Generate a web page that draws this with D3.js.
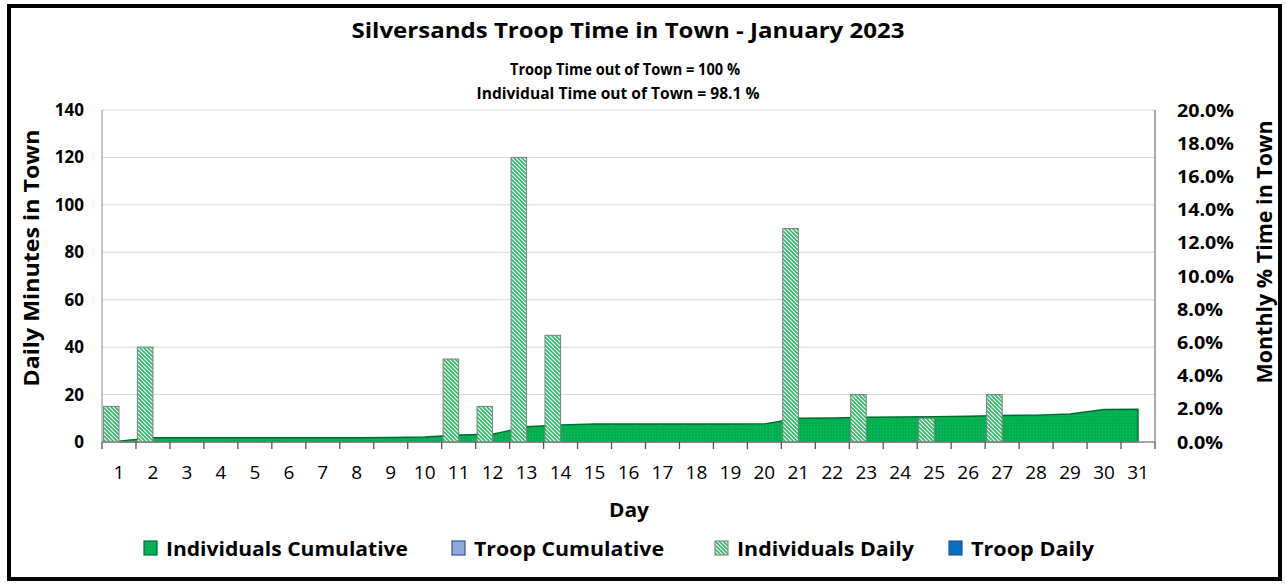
<!DOCTYPE html>
<html>
<head>
<meta charset="utf-8">
<script src="https://cdn.jsdelivr.net/npm/d3@7"></script>
<style>
  body { margin: 0; background: #fff; }
  svg { display: block; font-family: "Open Sans", "Noto Sans", sans-serif; }
</style>
</head>
<body>
<div id="chart"></div>
<script>
// data
var days = ["1","2","3","4","5","6","7","8","9","10","11","12","13","14","15","16",
  "17","18","19","20","21","22","23","24","25","26","27","28","29","30","31"];
var indivDaily = [15,40,0,0,0,0,0,0,0,0,35,15,120,45,0,0,0,0,0,0,90,0,20,0,10,0,20,0,0,0,0];
var troopDaily = [0,0,0,0,0,0,0,0,0,0,0,0,0,0,0,0,0,0,0,0,0,0,0,0,0,0,0,0,0,0,0];
// cumulative % of month, secondary axis
var indivCum = [0.05,0.26,0.26,0.26,0.26,0.26,0.26,0.26,0.27,0.30,0.42,0.47,0.92,1.03,1.08,1.08,
  1.08,1.08,1.08,1.09,1.43,1.45,1.49,1.51,1.53,1.55,1.60,1.62,1.69,1.96,1.97];
var troopCum = [0,0,0,0,0,0,0,0,0,0,0,0,0,0,0,0,0,0,0,0,0,0,0,0,0,0,0,0,0,0,0];
var leftTicks = [0,20,40,60,80,100,120,140];
var rightTicks = [0,2,4,6,8,10,12,14,16,18,20];
var legendNames = ["Individuals Cumulative","Troop Cumulative","Individuals Daily","Troop Daily"];

var W = 1286, H = 585;
var plot = {left: 102, right: 1155, top: 110, bottom: 442};

var svg = d3.select("#chart").append("svg")
    .attr("width", W)
    .attr("height", H);

var defs = svg.append("defs");

// diagonal hatch for daily bars
var hatch = defs.append("pattern")
    .attr("id", "hatch")
    .attr("patternUnits", "userSpaceOnUse")
    .attr("width", 4).attr("height", 4);
hatch.append("rect").attr("width", 4).attr("height", 4).attr("fill", "#fff");
hatch.append("path")
    .attr("d", "M-1,-1 L5,5 M-1,3 L1,5 M3,-1 L5,1")
    .attr("stroke", "#2fbf68").attr("stroke-width", 1.7);

// speckled fill for cumulative area
var dots = defs.append("pattern")
    .attr("id", "dots")
    .attr("patternUnits", "userSpaceOnUse")
    .attr("width", 3).attr("height", 3);
dots.append("rect").attr("width", 3).attr("height", 3).attr("fill", "#00b050");
dots.append("rect").attr("x", 1).attr("y", 1).attr("width", 1).attr("height", 1).attr("fill", "#1cbd60");

// outer frame
svg.append("rect")
    .attr("x", 9).attr("y", 6)
    .attr("width", 1271).attr("height", 573)
    .attr("fill", "none").attr("stroke", "#000").attr("stroke-width", 4);

// scales
var x = d3.scaleBand().domain(days).range([plot.left, plot.right]).padding(0);
var xInner = d3.scaleBand().domain(["indiv", "troop"])
    .range([0, x.bandwidth()]).paddingInner(0).paddingOuter(0.09);
var y = d3.scaleLinear().domain([0, 140]).range([plot.bottom, plot.top]);
var yR = d3.scaleLinear().domain([0, 20]).range([plot.bottom, plot.top]);

// gridlines
svg.append("g")
  .selectAll("line")
  .data(leftTicks.slice(1))
  .enter().append("line")
    .attr("x1", plot.left).attr("x2", plot.right)
    .attr("y1", function(d) { return y(d); })
    .attr("y2", function(d) { return y(d); })
    .attr("stroke", "#d9d9d9").attr("stroke-width", 1);

// cumulative areas (secondary axis)
var area = d3.area()
    .x(function(d, i) { return x(days[i]) + x.bandwidth() / 2; })
    .y0(plot.bottom)
    .y1(function(d) { return yR(d); });

svg.append("path")
    .datum(troopCum)
    .attr("d", area)
    .attr("fill", "#8eaadb").attr("stroke", "none");

svg.append("path")
    .datum(indivCum)
    .attr("d", area)
    .attr("fill", "url(#dots)")
    .attr("stroke", "#006b33").attr("stroke-width", 1.4)
    .attr("stroke-linejoin", "round");

// daily bars
var indivRows = indivDaily.map(function(v, i) { return {day: days[i], v: v}; })
    .filter(function(d) { return d.v > 0; });
var troopRows = troopDaily.map(function(v, i) { return {day: days[i], v: v}; });

var bars = svg.append("g");
bars.selectAll("rect.indiv")
  .data(indivRows)
  .enter().append("rect")
    .attr("class", "indiv")
    .attr("x", function(d) { return x(d.day) + xInner("indiv"); })
    .attr("y", function(d) { return y(d.v); })
    .attr("width", xInner.bandwidth())
    .attr("height", function(d) { return plot.bottom - y(d.v); })
    .attr("fill", "url(#hatch)")
    .attr("stroke", "#7f7f7f").attr("stroke-width", 1);

bars.selectAll("rect.troop")
  .data(troopRows)
  .enter().append("rect")
    .attr("class", "troop")
    .attr("x", function(d) { return x(d.day) + xInner("troop"); })
    .attr("y", function(d) { return y(d.v); })
    .attr("width", xInner.bandwidth())
    .attr("height", function(d) { return plot.bottom - y(d.v); })
    .attr("fill", "#0070c0");

// axes lines
var axisColor = "#8a8a8a";
svg.append("line")
    .attr("x1", plot.left).attr("x2", plot.left)
    .attr("y1", plot.top).attr("y2", plot.bottom)
    .attr("stroke", axisColor);
svg.append("line")
    .attr("x1", plot.right).attr("x2", plot.right)
    .attr("y1", plot.top).attr("y2", plot.bottom)
    .attr("stroke", "#555");

// bottom axis with ticks between categories
var xAxis = svg.append("g").attr("transform", "translate(0," + plot.bottom + ")");
xAxis.append("line")
    .attr("x1", plot.left).attr("x2", plot.right)
    .attr("stroke", axisColor).attr("stroke-width", 1.3);
xAxis.selectAll("line.tick")
  .data(days.concat(["end"]))
  .enter().append("line")
    .attr("class", "tick")
    .attr("x1", function(d, i) { return plot.left + i * x.bandwidth(); })
    .attr("x2", function(d, i) { return plot.left + i * x.bandwidth(); })
    .attr("y1", 0).attr("y2", 7)
    .attr("stroke", "#555").attr("stroke-width", 1.3);
xAxis.selectAll("text")
  .data(days)
  .enter().append("text")
    .attr("x", function(d) { return x(d) + x.bandwidth() / 2; })
    .attr("y", 37)
    .attr("text-anchor", "middle")
    .attr("font-size", 19)
    .attr("fill", "#000")
    .text(function(d) { return d; });

// left tick labels
svg.append("g").selectAll("text")
  .data(leftTicks)
  .enter().append("text")
    .attr("x", 84)
    .attr("y", function(d) { return y(d) + 6; })
    .attr("text-anchor", "end")
    .attr("font-size", 17).attr("font-weight", "bold")
    .text(function(d) { return d; });

// right tick labels
svg.append("g").selectAll("text")
  .data(rightTicks)
  .enter().append("text")
    .attr("x", 1177)
    .attr("y", function(d) { return yR(d) + 6.5; })
    .attr("font-size", 18).attr("font-weight", "bold")
    .attr("textLength", function(d) { return d >= 10 ? 57 : 46; })
    .attr("lengthAdjust", "spacingAndGlyphs")
    .text(function(d) { return d.toFixed(1) + "%"; });

// titles
function label(txt, px, py, size, len, rot) {
  var t = svg.append("text")
      .attr("text-anchor", "middle")
      .attr("font-size", size).attr("font-weight", "bold")
      .attr("textLength", len)
      .attr("lengthAdjust", "spacingAndGlyphs")
      .text(txt);
  if (rot) t.attr("transform", "translate(" + px + "," + py + ") rotate(-90)");
  else t.attr("x", px).attr("y", py);
  return t;
}
label("Silversands Troop Time in Town - January 2023", 628, 38, 22, 553);
label("Troop Time out of Town = 100 %", 625, 75, 16, 230);
label("Individual Time out of Town = 98.1 %", 618, 99, 16, 283);
label("Daily Minutes in Town", 39, 258, 21, 257, true);
label("Monthly % Time in Town", 1272, 252, 21, 263, true);
label("Day", 629, 517, 20, 40);

// legend
var legendX = [144, 452, 715, 949];
var legendLen = [242, 190, 177, 123];
var legendFill = ["url(#dots)", "#8eaadb", "url(#hatch)", "#0070c0"];
var legendStroke = ["#006b33", "#2f5597", "#8c8c8c", "#2f5597"];
var legend = svg.append("g").selectAll("g")
  .data(legendNames)
  .enter().append("g")
    .attr("transform", function(d, i) { return "translate(" + legendX[i] + ",541)"; });
legend.append("rect")
    .attr("width", 13).attr("height", 14)
    .attr("fill", function(d, i) { return legendFill[i]; })
    .attr("stroke", function(d, i) { return legendStroke[i]; })
    .attr("stroke-width", 1.2);
legend.append("text")
    .attr("x", 22).attr("y", 15)
    .attr("font-size", 20).attr("font-weight", "bold")
    .attr("textLength", function(d, i) { return legendLen[i]; })
    .attr("lengthAdjust", "spacingAndGlyphs")
    .text(function(d) { return d; });
</script>
</body>
</html>
